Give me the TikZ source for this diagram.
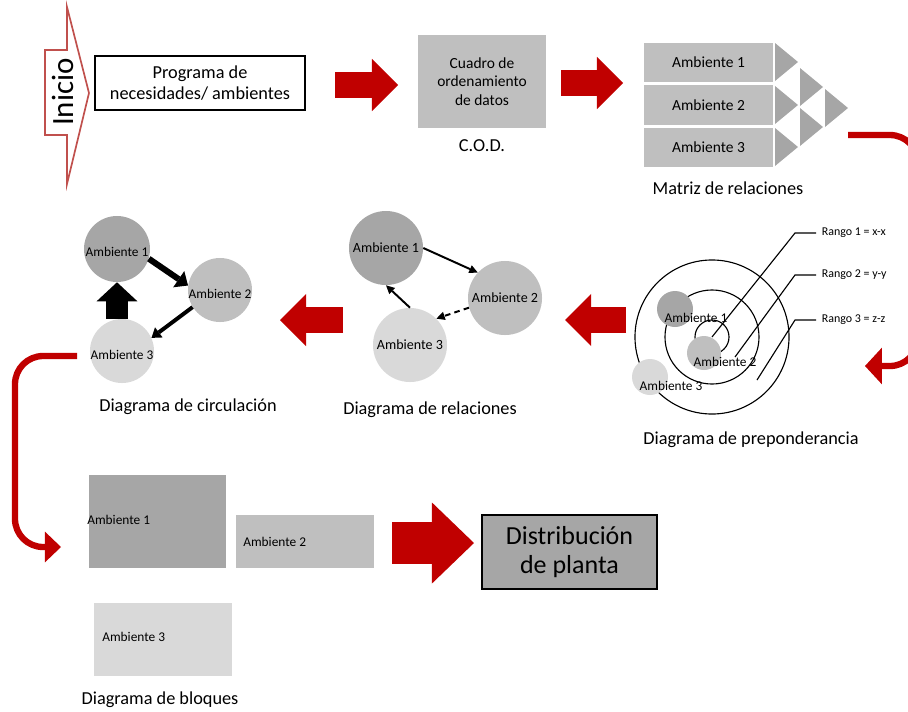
\documentclass[tikz,border=0pt]{standalone}
\usepackage{fontspec}
\setmainfont{Carlito}
\usetikzlibrary{arrows.meta}
\definecolor{myred}{HTML}{C00000}
\definecolor{inired}{HTML}{C0504D}
\definecolor{gdark}{HTML}{A6A6A6}
\definecolor{gmid}{HTML}{BFBFBF}
\definecolor{glight}{HTML}{D9D9D9}
\tikzset{box/.style={draw,line width=0.8pt,align=center,inner sep=0pt},
         greybox/.style={fill=gmid,align=center,inner sep=0pt,font=\fontsize{11}{13}\selectfont},
         amb/.style={circle,inner sep=0pt,font=\fontsize{10}{12}\selectfont},
         caption/.style={font=\fontsize{13}{15}\selectfont},
         small/.style={font=\fontsize{9.5}{11}\selectfont,inner sep=0pt},
         rango/.style={font=\fontsize{8.5}{10}\selectfont,anchor=west,inner sep=4pt},
         ring/.style={circle,draw,line width=0.8pt,inner sep=0pt},
         redblock/.style={myred,line width=18pt,-{Triangle[width=37pt,length=18.5pt,line width=0pt]}},
         redcurve/.style={myred,line width=4.5pt,rounded corners=20pt},
         thinarrow/.style={line width=1.4pt,-{Triangle[width=6pt,length=6pt,line width=0pt]}},
        }

\begin{document}
\begin{tikzpicture}[x=0.025cm,y=-0.025cm]
        \useasboundingbox (0,0) rectangle (908,711);

        \draw[inired,line width=1.2pt,line join=miter](45,50)--(67,50)--(67,7)--(89,93)--(67,184)--(67,135)--(45,135)--cycle;
        \node[rotate=90,font=\fontsize{22}{24}\selectfont](ini)at(63,92){Inicio};
        \node[box,minimum width=5.25cm,minimum height=1.35cm,font=\fontsize{13}{14.5}\selectfont](prog)at(200,83){Programa de\\necesidades/ ambientes};
        \coordinate(a1s)at(335,85);
        \coordinate(a1e)at(398,85);
        \draw[redblock](a1s)--(a1e);

        \node[greybox,minimum width=3.2cm,minimum height=2.325cm](cod)at(482,81.5){Cuadro de\\ordenamiento\\de datos};
        \node[caption](codlbl)at(482,146){C.O.D.};
        \coordinate(a2s)at(561,83);
        \coordinate(a2e)at(623,83);
        \draw[redblock](a2s)--(a2e);

        \foreach \i/\y in {1/62.5,2/105,3/147.5}
            \node[greybox,minimum width=3.225cm,minimum height=0.975cm](m\i)at(708.5,\y){Ambiente \i};
        \foreach \x/\y in {775/62,775/105,775/147,800/87,800/127,825/108}
            \fill[gdark](\x,\y-19)--(\x+23,\y)--(\x,\y+19)--cycle;
        \node[caption](mlbl)at(728,188){Matriz de relaciones};

        \coordinate(cr1)at(848,135);
        \coordinate(cr2)at(865,366);
        \draw[redcurve,-{Triangle[width=26pt,length=12pt,line width=0pt]}](cr1)--(918,135)--(918,366)--(cr2);

        \node[ring,minimum size=3.85cm](ring3)at(712,337){};
        \node[ring,minimum size=2.35cm](ring2)at(712,337){};
        \node[ring,minimum size=0.85cm](ring1)at(712,337){};
        \node[amb,fill=gdark,minimum size=0.9cm](p1)at(675,309){};
        \node[amb,fill=gmid,minimum size=0.85cm](p2)at(704,353){};
        \node[amb,fill=glight,minimum size=0.9cm](p3)at(650,377){};
        \node[small](p1t)at(696,318){Ambiente 1};
        \node[small](p2t)at(725,362){Ambiente 2};
        \node[small](p3t)at(671,386){Ambiente 3};
        \node[rango](rg1)at(816,233){Rango 1 = x-x};
        \node[rango](rg2)at(816,275){Rango 2 = y-y};
        \node[rango](rg3)at(816,320){Rango 3 = z-z};
        \coordinate(rg2s)at(735,357);
        \coordinate(rg3s)at(757,380);
        \draw[line width=0.8pt](ring1.center)--(795,233)--(rg1.west);
        \draw[line width=0.8pt](rg2s)--(795,275)--(rg2.west);
        \draw[line width=0.8pt](rg3s)--(795,320)--(rg3.west);
        \node[caption](plbl)at(751,440){Diagrama de preponderancia};

        \coordinate(a3s)at(626,320);
        \coordinate(a3e)at(565,320);
        \draw[redblock](a3s)--(a3e);

        \node[amb,fill=gdark,minimum size=1.85cm](r1)at(386,248){Ambiente 1};
        \node[amb,fill=gmid,minimum size=1.85cm](r2)at(505,298){Ambiente 2};
        \node[amb,fill=glight,minimum size=1.85cm](r3)at(410,345){Ambiente 3};
        \draw[thinarrow](r1.east)--(r2.137);
        \draw[thinarrow,dash pattern=on 4pt off 3pt](r2.195)--(r3.45);
        \draw[thinarrow](r3.north)--(r1.south);
        \node[caption](rlbl)at(430,410){Diagrama de relaciones};

        \coordinate(a4s)at(343,320);
        \coordinate(a4e)at(280,320);
        \draw[redblock](a4s)--(a4e);

        \node[amb,fill=gdark,minimum size=1.65cm,label={[small,yshift=-2pt]center:Ambiente 1}](c1)at(117,249){};
        \node[amb,fill=gmid,minimum size=1.6cm,label={[small,yshift=-3pt]center:Ambiente 2}](c2)at(220,290){};
        \node[amb,fill=glight,minimum size=1.6cm,label={[small,yshift=-3pt]center:Ambiente 3}](c3)at(122,351){};
        \draw[line width=4.3pt,-{Triangle[width=14pt,length=8pt,line width=0pt]}](c1.-17)--(c2.172);
        \draw[line width=2.8pt,-{Triangle[width=9pt,length=6.5pt,line width=0pt]}](c2.212)--(c3.24);
        \draw[line width=15pt,-{Triangle[width=29pt,length=13.5pt,line width=0pt]}](c3.north -| c1.south)--(c1.south);
        \node[caption](clbl)at(188,407){Diagrama de circulación};

        \coordinate(cl1)at(77,356);
        \coordinate(cl2)at(61,547);
        \draw[redcurve,-{Triangle[width=22pt,length=11.5pt,line width=0pt]}](cl1)--(15,356)--(15,547)--(cl2);

        \node[fill=gdark,minimum width=3.425cm,minimum height=2.325cm](b1)at(157.5,521.5){};
        \node[fill=gmid,minimum width=3.45cm,minimum height=1.325cm](b2)at(305,541.5){};
        \node[fill=glight,minimum width=3.45cm,minimum height=1.825cm](b3)at(163,639.5){};
        \node[small,anchor=west](b1t)at(87,520){Ambiente 1};
        \node[small,anchor=west](b2t)at(243,542){Ambiente 2};
        \node[small,anchor=west](b3t)at(102,637){Ambiente 3};
        \node[caption](blbl)at(160,700){Diagrama de bloques};

        \coordinate(a5s)at(392,543);
        \coordinate(a5e)at(474,543);
        \draw[myred,line width=29.2pt,-{Triangle[width=57.6pt,length=29.9pt,line width=0pt]}](a5s)--(a5e);
        \node[box,fill=gdark,minimum width=4.375cm,minimum height=1.85cm,font=\fontsize{18.5}{21}\selectfont](dist)at(569.5,552){Distribución\\de planta};
    \end{tikzpicture}
\end{document}
